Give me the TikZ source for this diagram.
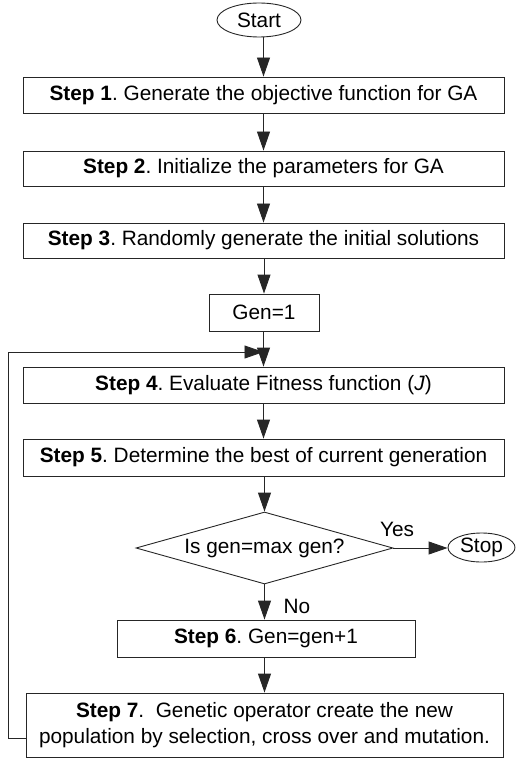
\documentclass[tikz,border=0pt]{standalone}
\usepackage{fontspec}
\setmainfont{Liberation Sans}
\usetikzlibrary{arrows.meta,shapes.geometric}
\begin{document}
\frenchspacing
\begin{tikzpicture}[x=1pt,y=-1pt,
  every node/.style={font=\fontsize{20.8}{26}\selectfont, inner sep=0pt},
  box/.style={draw=black!85, line width=0.9pt, rectangle, align=center},
  oval/.style={draw=black!85, line width=0.9pt, ellipse},
  dec/.style={draw=black!85, line width=0.9pt, diamond, aspect=3.57},
  conn/.style={draw=black!85, line width=0.9pt, -{Triangle[width=13pt,length=19pt]}}]
\useasboundingbox (0,0) rectangle (517,767);
\node[oval, minimum width=84pt, minimum height=34pt] (start) at (259,20) {Start};
\node[box, minimum width=481pt, minimum height=36pt] (s1) at (263.5,95) {\textbf{Step 1}. Generate the objective function for GA};
\node[box, minimum width=481pt, minimum height=35pt] (s2) at (263.5,168.5) {\textbf{Step 2}. Initialize the parameters for GA};
\node[box, minimum width=481pt, minimum height=35pt] (s3) at (263.5,240.5) {\textbf{Step 3}. Randomly generate the initial solutions};
\node[box, minimum width=110pt, minimum height=37pt] (g1) at (264,312.5) {Gen=1};
\node[box, minimum width=481pt, minimum height=36pt] (s4) at (263.5,385) {\textbf{Step 4}. Evaluate Fitness function (\textit{J})};
\node[box, minimum width=481pt, minimum height=37pt] (s5) at (263.5,457.5) {\textbf{Step 5}. Determine the best of current generation};
\node[dec, minimum width=257pt, minimum height=72pt] (d) at (264.5,548) {Is gen=max gen?};
\node[oval, minimum width=67pt, minimum height=29pt] (stop) at (481.5,547.5) {Stop};
\node[box, minimum width=298pt, minimum height=37pt] (s6) at (266,638.5) {\textbf{Step 6}. Gen=gen+1};
\node[box, minimum width=477pt, minimum height=64pt] (s7) at (264.5,725) {\textbf{Step 7}.\ \ Genetic operator create the new\\population by selection, cross over and mutation.};
\node (yes) at (397,529) {Yes};
\node (no) at (297,606) {No};
\coordinate (join) at (263.5,352);
\coordinate (lb) at (8,738);
\draw[conn] (start.south -| s1.north) -- (s1.north);
\draw[conn] (s1) -- (s2);
\draw[conn] (s2) -- (s3);
\draw[conn] (s3.south -| g1.north) -- (g1.north);
\draw[conn] (g1.south -| s4.north) -- (s4.north);
\draw[conn] (s4) -- (s5);
\draw[conn] (s5.south -| d.north) -- (d.north);
\draw[conn] (d.east) -- (d.east -| stop.west);
\draw[conn] (d.south) -- (d.south |- s6.north);
\draw[conn] (s6.south -| s7.north) -- (s7.north);
\draw[conn] (s7.west |- lb) -- (lb) -- (lb |- join) -- (join);
\end{tikzpicture}
\end{document}
